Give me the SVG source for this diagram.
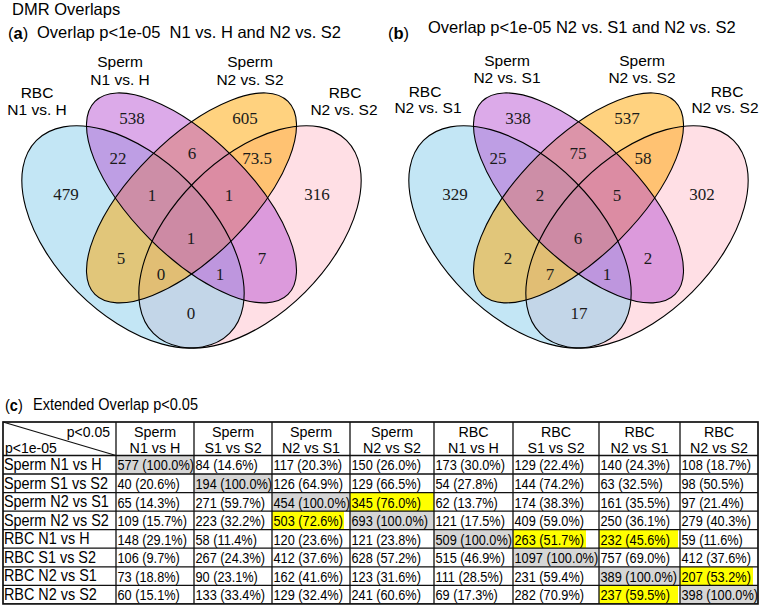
<svg xmlns="http://www.w3.org/2000/svg" xmlns:xlink="http://www.w3.org/1999/xlink" width="761" height="606" viewBox="0 0 761 606">
<style>
.sans{font-family:"Liberation Sans",Arial,sans-serif;fill:#000}
.ttl{font-size:16.5px}
.lab{font-size:15.5px;text-anchor:middle}
.num{font-family:"Liberation Serif","Times New Roman",serif;font-size:17px;text-anchor:middle;fill:#1a1a1a}
.hd{font-size:14.3px;text-anchor:middle}
.rl{font-size:16px}
.c{font-size:14.5px}
.grid{stroke:#111;stroke-width:1.3;fill:none}
.gray{fill:#d6d6d6}
.yel{fill:#ffff00}
.ol{fill:none;stroke:#000;stroke-width:1.1}
</style>
<defs>
<ellipse id="eBlue" cx="133" cy="236.9" rx="136.5" ry="78" transform="rotate(45 133 236.9)"/>
<ellipse id="ePurple" cx="191.5" cy="197.9" rx="136.5" ry="58.5" transform="rotate(45 191.5 197.9)"/>
<ellipse id="eOrange" cx="191.5" cy="197.9" rx="136.5" ry="58.5" transform="rotate(-45 191.5 197.9)"/>
<ellipse id="ePink" cx="250" cy="236.9" rx="136.5" ry="78" transform="rotate(-45 250 236.9)"/>
<g id="vennShapes">
<use xlink:href="#ePink" fill="#ffc0cb" fill-opacity="0.5"/>
<use xlink:href="#eBlue" fill="#87ceeb" fill-opacity="0.5"/>
<use xlink:href="#eOrange" fill="#ffa500" fill-opacity="0.5"/>
<use xlink:href="#ePurple" fill="#ba55d3" fill-opacity="0.5"/>
<use xlink:href="#eBlue" class="ol"/>
<use xlink:href="#ePurple" class="ol"/>
<use xlink:href="#eOrange" class="ol"/>
<use xlink:href="#ePink" class="ol"/>
</g>
</defs>
<rect width="761" height="606" fill="#fff"/>

<g id="titles" class="sans">
<text x="12" y="15" font-size="16.5px">DMR Overlaps</text>
<text x="8" y="39" class="ttl">(<tspan font-weight="bold">a</tspan>)</text>
<text x="37" y="38" class="ttl" style="white-space:pre">Overlap p&lt;1e-05  N1 vs. H and N2 vs. S2</text>
<text x="388" y="39" class="ttl">(<tspan font-weight="bold">b</tspan>)</text>
<text x="428" y="33" class="ttl" font-size="16.8px">Overlap p&lt;1e-05 N2 vs. S1 and N2 vs. S2</text>
<g transform="scale(0.88 1)" font-size="16.5px">
<text x="5.7" y="411">(<tspan font-weight="bold">c</tspan>)</text>
<text x="37.5" y="410">Extended Overlap p&lt;0.05</text>
</g>
</g>

<g id="venn-a">
<use xlink:href="#vennShapes"/>
<g class="sans">
<text class="lab" x="37" y="98">RBC</text><text class="lab" x="37" y="115">N1 vs. H</text>
<text class="lab" x="120" y="67">Sperm</text><text class="lab" x="120" y="85">N1 vs. H</text>
<text class="lab" x="250" y="67">Sperm</text><text class="lab" x="250" y="85">N2 vs. S2</text>
<text class="lab" x="345" y="98">RBC</text><text class="lab" x="344" y="115">N2 vs. S2</text>
</g>
<text class="num" x="132" y="124">538</text>
<text class="num" x="245" y="124">605</text>
<text class="num" x="118" y="164">22</text>
<text class="num" x="192" y="159">6</text>
<text class="num" x="257" y="164">73.5</text>
<text class="num" x="66" y="200">479</text>
<text class="num" x="317" y="200">316</text>
<text class="num" x="152" y="201">1</text>
<text class="num" x="229" y="201">1</text>
<text class="num" x="191" y="244">1</text>
<text class="num" x="121" y="264">5</text>
<text class="num" x="262" y="264">7</text>
<text class="num" x="161" y="280">0</text>
<text class="num" x="220" y="280">1</text>
<text class="num" x="191" y="319">0</text>
</g>

<g id="venn-b">
<use xlink:href="#vennShapes" transform="translate(387 0)"/>
<g class="sans">
<text class="lab" x="425" y="97">RBC</text><text class="lab" x="428" y="113">N2 vs. S1</text>
<text class="lab" x="507" y="66">Sperm</text><text class="lab" x="507" y="83">N2 vs. S1</text>
<text class="lab" x="642" y="66">Sperm</text><text class="lab" x="642" y="83">N2 vs. S2</text>
<text class="lab" x="727" y="97">RBC</text><text class="lab" x="725" y="113">N2 vs. S2</text>
</g>
<text class="num" x="518" y="124">338</text>
<text class="num" x="627" y="124">537</text>
<text class="num" x="498" y="164">25</text>
<text class="num" x="578" y="159">75</text>
<text class="num" x="643" y="164">58</text>
<text class="num" x="455" y="200">329</text>
<text class="num" x="702" y="200">302</text>
<text class="num" x="540" y="201">2</text>
<text class="num" x="617" y="201">5</text>
<text class="num" x="578" y="244">6</text>
<text class="num" x="508" y="264">2</text>
<text class="num" x="648" y="264">2</text>
<text class="num" x="550" y="280">7</text>
<text class="num" x="607" y="280">1</text>
<text class="num" x="579" y="319">17</text>
</g>

<g id="table">
<g id="highlights">
<rect class="gray" x="116" y="455.5" width="78" height="18.5"/>
<rect class="gray" x="194" y="474" width="78" height="18.6"/>
<rect class="gray" x="272" y="492.6" width="78" height="18.5"/>
<rect class="yel" x="350" y="492.6" width="84" height="18.5"/>
<rect class="yel" x="272" y="511.1" width="72" height="18.6"/>
<rect class="gray" x="350" y="511.1" width="84" height="18.6"/>
<rect class="gray" x="434" y="529.7" width="79" height="18.5"/>
<rect class="yel" x="513" y="529.7" width="73" height="18.5"/>
<rect class="yel" x="599" y="529.7" width="79" height="18.5"/>
<rect class="gray" x="513" y="548.2" width="86" height="18.6"/>
<rect class="gray" x="599" y="566.8" width="81" height="18.5"/>
<rect class="yel" x="680" y="566.8" width="73" height="18.5"/>
<rect class="yel" x="599" y="585.3" width="79" height="18.6"/>
<rect class="gray" x="680" y="585.3" width="78" height="18.6"/>
</g>
<g id="grid" class="grid">
<rect x="3" y="422" width="755" height="181.9" stroke-width="1.7"/>
<path d="M3 455.5H758M3 474H758M3 492.6H758M3 511.1H758M3 529.7H758M3 548.2H758M3 566.8H758M3 585.3H758"/>
<path d="M116 422V603.9M194 422V603.9M272 422V603.9M350 422V603.9M434 422V603.9M513 422V603.9M599 422V603.9M680 422V603.9"/>
<path d="M3 422L116 455.5"/>
</g>
<g id="header" class="sans">
<text x="110" y="436.5" font-size="14px" text-anchor="end">p&lt;0.05</text>
<text x="5" y="452.5" font-size="14px">p&lt;1e-05</text>
<text class="hd" x="155" y="436.5">Sperm</text><text class="hd" x="155" y="452.5">N1 vs H</text>
<text class="hd" x="233" y="436.5">Sperm</text><text class="hd" x="233" y="452.5">S1 vs S2</text>
<text class="hd" x="311" y="436.5">Sperm</text><text class="hd" x="311" y="452.5">N2 vs S1</text>
<text class="hd" x="392" y="436.5">Sperm</text><text class="hd" x="392" y="452.5">N2 vs S2</text>
<text class="hd" x="473.5" y="436.5">RBC</text><text class="hd" x="473.5" y="452.5">N1 vs H</text>
<text class="hd" x="556" y="436.5">RBC</text><text class="hd" x="556" y="452.5">S1 vs S2</text>
<text class="hd" x="639.5" y="436.5">RBC</text><text class="hd" x="639.5" y="452.5">N2 vs S1</text>
<text class="hd" x="719" y="436.5">RBC</text><text class="hd" x="719" y="452.5">N2 vs S2</text>
</g>
<g id="rowlabels" class="sans rl" transform="scale(0.9 1)">
<text x="4.4" y="470.2">Sperm N1 vs H</text>
<text x="4.4" y="488.7">Sperm S1 vs S2</text>
<text x="4.4" y="507.3">Sperm N2 vs S1</text>
<text x="4.4" y="525.8">Sperm N2 vs S2</text>
<text x="4.4" y="544.4">RBC N1 vs H</text>
<text x="4.4" y="562.9">RBC S1 vs S2</text>
<text x="4.4" y="581.5">RBC N2 vs S1</text>
<text x="4.4" y="600">RBC N2 vs S2</text>
</g>
<g id="cells" class="sans c" transform="scale(0.88 1)">
<text x="133.5" y="470.5">577 (100.0%)</text><text x="222.2" y="470.5">84 (14.6%)</text><text x="310.8" y="470.5">117 (20.3%)</text><text x="399.4" y="470.5">150 (26.0%)</text><text x="494.9" y="470.5">173 (30.0%)</text><text x="584.7" y="470.5">129 (22.4%)</text><text x="682.4" y="470.5">140 (24.3%)</text><text x="774.4" y="470.5">108 (18.7%)</text>
<text x="133.5" y="489">40 (20.6%)</text><text x="222.2" y="489">194 (100.0%)</text><text x="310.8" y="489">126 (64.9%)</text><text x="399.4" y="489">129 (66.5%)</text><text x="494.9" y="489">54 (27.8%)</text><text x="584.7" y="489">144 (74.2%)</text><text x="682.4" y="489">63 (32.5%)</text><text x="774.4" y="489">98 (50.5%)</text>
<text x="133.5" y="507.6">65 (14.3%)</text><text x="222.2" y="507.6">271 (59.7%)</text><text x="310.8" y="507.6">454 (100.0%)</text><text x="399.4" y="507.6">345 (76.0%)</text><text x="494.9" y="507.6">62 (13.7%)</text><text x="584.7" y="507.6">174 (38.3%)</text><text x="682.4" y="507.6">161 (35.5%)</text><text x="774.4" y="507.6">97 (21.4%)</text>
<text x="133.5" y="526.1">109 (15.7%)</text><text x="222.2" y="526.1">223 (32.2%)</text><text x="310.8" y="526.1">503 (72.6%)</text><text x="399.4" y="526.1">693 (100.0%)</text><text x="494.9" y="526.1">121 (17.5%)</text><text x="584.7" y="526.1">409 (59.0%)</text><text x="682.4" y="526.1">250 (36.1%)</text><text x="774.4" y="526.1">279 (40.3%)</text>
<text x="133.5" y="544.7">148 (29.1%)</text><text x="222.2" y="544.7">58 (11.4%)</text><text x="310.8" y="544.7">120 (23.6%)</text><text x="399.4" y="544.7">121 (23.8%)</text><text x="494.9" y="544.7">509 (100.0%)</text><text x="584.7" y="544.7">263 (51.7%)</text><text x="682.4" y="544.7">232 (45.6%)</text><text x="774.4" y="544.7">59 (11.6%)</text>
<text x="133.5" y="563.2">106 (9.7%)</text><text x="222.2" y="563.2">267 (24.3%)</text><text x="310.8" y="563.2">412 (37.6%)</text><text x="399.4" y="563.2">628 (57.2%)</text><text x="494.9" y="563.2">515 (46.9%)</text><text x="584.7" y="563.2">1097 (100.0%)</text><text x="682.4" y="563.2">757 (69.0%)</text><text x="774.4" y="563.2">412 (37.6%)</text>
<text x="133.5" y="581.8">73 (18.8%)</text><text x="222.2" y="581.8">90 (23.1%)</text><text x="310.8" y="581.8">162 (41.6%)</text><text x="399.4" y="581.8">123 (31.6%)</text><text x="494.9" y="581.8">111 (28.5%)</text><text x="584.7" y="581.8">231 (59.4%)</text><text x="682.4" y="581.8">389 (100.0%)</text><text x="774.4" y="581.8">207 (53.2%)</text>
<text x="133.5" y="600.3">60 (15.1%)</text><text x="222.2" y="600.3">133 (33.4%)</text><text x="310.8" y="600.3">129 (32.4%)</text><text x="399.4" y="600.3">241 (60.6%)</text><text x="494.9" y="600.3">69 (17.3%)</text><text x="584.7" y="600.3">282 (70.9%)</text><text x="682.4" y="600.3">237 (59.5%)</text><text x="774.4" y="600.3">398 (100.0%)</text>
</g>
</g>
</svg>
